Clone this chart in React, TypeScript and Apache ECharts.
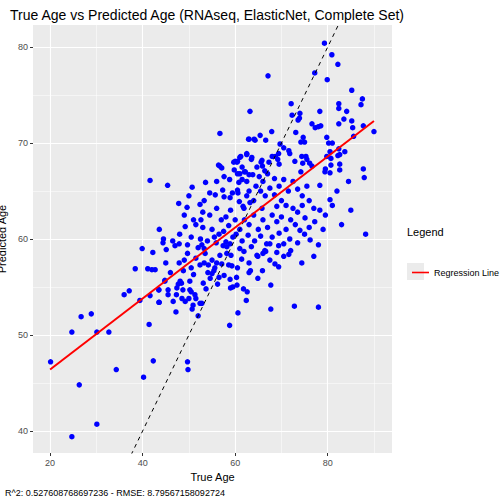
import React, { useEffect, useRef } from "react";
import * as echarts from "echarts";

// [true age, predicted age]
const outliers: number[][] = [
  [20.1, 47.2], [24.7, 50.3], [26.3, 44.8], [24.7, 39.4], [30.1, 40.7], [30.1, 50.3], [32.7, 50.3],
  [26.7, 51.9], [28.9, 52.2], [34.3, 46.4], [40.2, 45.6], [42.3, 47.3], [49.7, 47.2], [49.8, 46.4],
  [41.4, 51.1], [36, 54.2], [37.1, 54.6], [39.4, 53.6], [38.4, 56.9], [39.9, 59], [42.2, 58.6],
  [44.4, 59.6], [41.1, 56.9], [42, 56.8], [42.7, 56.8], [43.5, 54.7], [41.6, 54.1], [43.6, 53.4],
  [44.8, 55.6], [41.6, 66.1], [45.4, 65.6], [43.6, 61], [58.8, 51], [60.6, 52.3], [67.7, 52.7],
  [72.8, 53], [78, 52.9], [77, 58.2], [74.4, 57.5], [71.6, 58.4], [87.7, 67.3], [88.2, 60.5],
  [87.9, 66.4],
];

const lowerCluster: number[][] = [
  [59.5, 55], [59, 54.9], [60.4, 55.2], [58.9, 55.8], [60.3, 56], [57.6, 56.2], [56.2, 55.3],
  [54.6, 55.9], [54.1, 56.5], [53.7, 54.8], [53.1, 55.4], [52.4, 53.3], [52.8, 53.3], [52, 52],
  [50.7, 52.7], [50.9, 53.1], [50, 53.8], [49.2, 53.5], [48.5, 53.8], [51.3, 54.2], [51.5, 53.8],
  [50.2, 54.7], [50.5, 54.5], [50.2, 55.6], [48.7, 54.7], [47.4, 54.9], [47.7, 55.3], [48.1, 55.6],
  [48.4, 55.4], [47.3, 54.2], [46.6, 53.5], [45.5, 54.2], [45.5, 54.7], [47.2, 52.4], [43.5, 53.4],
  [44.8, 55.7], [43.5, 54.7], [48.8, 56.7], [47.9, 57.5], [51.5, 58], [52.4, 57.3], [53.3, 57.5],
  [54.2, 57.3], [55, 57.8], [56, 57.5], [52, 59.1], [52.8, 59.4], [53.3, 59], [49.7, 58.5],
  [49.7, 59.4], [56.7, 58.3], [58.2, 58.5], [59.1, 58.3], [57.4, 59.3], [58.2, 59.2], [58.9, 59.5],
  [55.6, 57], [55, 56.4], [55.4, 56.7], [58.6, 57.3], [59.3, 57.2], [57.1, 57.4], [47, 59.3],
  [45.1, 58.9], [47.9, 59.5], [62.4, 53.6], [62.6, 54.5], [64.9, 55.9], [65.9, 56.7], [69.4, 57.1],
  [68.6, 57.4], [67.5, 57.8], [69, 58.6], [69.4, 59.3], [66.4, 58.8], [66.6, 58.7], [64.7, 58.3],
  [64.9, 58.2], [63, 57.5], [63, 56.5], [63.3, 56.7], [61.9, 58.7], [61.4, 57.9], [61.8, 54.8],
  [67.7, 55.2], [45, 57.5], [46, 56.5], [49, 57.8], [50.5, 57], [51, 56.3], [53.5, 58.5], [56.5, 56],
  [60.5, 57],
];

const centralCluster: number[][] = [
  [56.7, 71], [62.9, 70.4], [64.1, 70.4], [53.6, 65.9], [56.4, 67.7], [56.7, 67.6], [57.1, 67.4],
  [57.6, 66.5], [58.8, 66.2], [60, 68.1], [60.5, 68.1], [61.2, 68.6], [62.5, 68.8], [63.5, 68.3],
  [61, 66.8], [61.5, 66.2], [62, 67], [60.8, 65.9], [65.8, 68.2], [65.9, 67.6], [69.4, 68.9],
  [47.8, 63.7], [49.6, 63.3], [49, 62.5], [52.4, 63.6], [53.3, 64], [55.7, 64.6], [57.3, 65.1],
  [57.6, 64.4], [58.9, 64.3], [59.4, 64.8], [60.5, 65.1], [60.6, 64.8], [60.9, 63.9], [61.7, 63.4],
  [61.9, 63.2], [63.2, 63.8], [65.5, 65], [66.5, 64.5], [67.5, 65.3], [68.5, 64.6], [69, 63.4],
  [65.8, 63.2], [52.6, 62], [53, 61.2], [55, 61], [56.5, 60.5], [55.9, 59.6], [58, 62.3],
  [58.6, 61.4], [59.5, 60.2], [44.5, 60], [46.5, 59.8], [48, 60.5], [49.2, 61.3], [50.5, 60.2],
  [51.5, 61.5], [52.5, 60], [54, 59.8], [54.5, 62.5], [56, 63.2], [57, 62], [59, 63], [60, 62],
  [61, 61], [62, 62], [63, 61.5], [64, 62.5], [65, 61], [66, 62], [67, 61.2], [68, 62.5], [69, 61.8],
  [70, 62.3], [71, 61], [72, 62], [73, 61.5], [60.2, 60.5], [61.5, 59.8], [62.8, 60.4], [64.2, 59.8],
  [65.5, 60.3], [66.8, 59.5], [68, 60.2], [69.5, 60.6], [70.5, 59.5], [71.8, 60], [63, 65], [64, 64],
  [62.5, 64.5], [66, 66], [67, 66.8], [68.5, 66.3], [69.5, 65.5], [70.5, 66.2], [71.5, 65], [72.5, 66],
  [73.5, 65.2], [74.5, 64.5], [75.5, 65.5], [70, 64], [71, 63.5], [72.5, 63.2], [73.5, 62.8],
  [74.5, 63.5], [76, 64], [77, 63.2], [55.5, 60.2], [57.5, 60.8], [53, 62.8], [51, 62], [50, 64.5],
  [54.5, 64.8], [56, 66], [59.8, 67.2], [62.5, 66], [63.8, 66.7], [64.5, 65.5], [65.2, 66.5],
  [58, 59.7], [61, 59], [63.5, 59.2], [66, 58.5], [67.5, 59.5], [70.5, 58.2], [72, 58.8], [73.5, 59.6],
  [75, 60.5], [76, 61.2], [79.5, 62.5], [81, 63.5], [79, 61], [82, 65], [84.5, 66], [85, 63], [83, 61.5],
  [78.3, 65.6], [79.4, 67], [80.5, 69.1], [82.2, 68.7], [82.6, 67.2], [83.7, 69.1], [80.5, 64.1],
  [78.3, 63], [77.2, 61.8], [75.1, 62.2], [74, 60.9], [76.2, 59.9], [78, 59.4], [50.7, 65.4],
];

const upperCluster: number[][] = [
  [79.3, 80.4], [80.9, 79.2], [82.2, 78.2], [79.9, 76.6], [77.2, 77.3], [67.1, 77], [85.2, 75.5],
  [87.5, 74.6], [87.2, 74], [82.4, 74.1], [82.4, 73.6], [84.1, 73.3], [78.3, 73.3], [72.1, 74.1],
  [72.3, 72.9], [74, 73.1], [73.6, 72.4], [73.9, 72.6], [63.2, 73.3], [83.5, 72.5], [85.2, 72.3],
  [85.4, 71.6], [87.7, 71.8], [90, 71.2], [82.4, 72], [76.6, 72], [77.3, 71.6], [78, 71.7],
  [78.5, 71.8], [67.9, 71.2], [65.4, 70.8], [63, 70.4], [64.3, 70.3], [66.6, 70.3], [73.1, 71.1],
  [74.7, 70.6], [74.2, 70.1], [75, 70.1], [79.8, 70.6], [80.2, 70], [81, 70], [69.7, 69.9],
  [70.5, 69.5], [71.6, 69.2], [71.8, 68.9], [82.4, 69.4], [82.6, 68.8], [85.6, 70.7], [62.5, 68.9],
  [61, 68.5], [63.6, 68.5], [59.7, 68], [60.4, 68], [65.6, 68], [68, 68.6], [68.7, 68.6], [69.2, 68.3],
  [67.3, 68], [69.5, 67.8], [72.9, 68.1], [74.4, 68.6], [75.3, 68.6], [75.5, 68.3], [74.6, 67.9],
  [76.1, 67.9], [76.6, 67.6], [79.8, 68.6], [80.7, 68.4], [80.7, 67.7], [82.6, 67.8], [61.5, 67.5],
  [62.2, 67], [63, 66.7], [64.7, 67.5], [66.4, 67.1], [74.2, 67], [79.5, 67.3], [80.5, 66.9],
  [60.5, 66.8],
];

const regressionLine: number[][] = [[20, 46.4], [90, 72.3]];
const identityLine: number[][] = [[30, 30], [100, 100]];

const xMajor = [20, 40, 60, 80];
const xMinor = [30, 50, 70, 90];
const yMajor = [40, 50, 60, 70, 80];
const yMinor = [45, 55, 65, 75];

const FONT = "Liberation Sans, Arial, sans-serif";

const App: React.FC = () => {
  const chartRef = useRef<HTMLDivElement | null>(null);

  useEffect(() => {
    if (!chartRef.current) return;
    const chart = echarts.init(chartRef.current, undefined, { renderer: "svg" });
    const points = [...outliers, ...lowerCluster, ...centralCluster, ...upperCluster];

    const gridLines = [
      ...xMajor.map((v) => ({ xAxis: v, lineStyle: { width: 1.1 } })),
      ...xMinor.map((v) => ({ xAxis: v, lineStyle: { width: 0.5 } })),
      ...yMajor.map((v) => ({ yAxis: v, lineStyle: { width: 1.1 } })),
      ...yMinor.map((v) => ({ yAxis: v, lineStyle: { width: 0.5 } })),
    ];

    chart.setOption({
      animation: false,
      textStyle: { fontFamily: FONT },
      title: {
        text: "True Age vs Predicted Age (RNAseq, ElasticNet, Complete Set)",
        left: 5,
        top: 3,
        textStyle: { fontSize: 14, fontWeight: "normal", color: "#000", fontFamily: FONT },
      },
      grid: {
        left: 33,
        right: 112,
        top: 25,
        bottom: 51,
        containLabel: false,
        outerBoundsMode: "none",
        backgroundColor: "#EBEBEB",
        show: true,
        borderWidth: 0,
      },
      xAxis: {
        type: "value",
        min: 16.3,
        max: 93.9,
        name: "True Age",
        nameLocation: "middle",
        nameGap: 16,
        nameTextStyle: { fontSize: 11, color: "#000" },
        axisLine: { show: false },
        axisTick: { show: true, length: 3, lineStyle: { color: "#333" }, customValues: xMajor },
        axisLabel: { fontSize: 9, color: "#4D4D4D", margin: 5, customValues: xMajor },
        splitLine: { show: false },
      },
      yAxis: {
        type: "value",
        min: 37.7,
        max: 82.3,
        name: "Predicted Age",
        nameLocation: "middle",
        nameGap: 20,
        nameTextStyle: { fontSize: 11, color: "#000" },
        axisLine: { show: false },
        axisTick: { show: true, length: 3, lineStyle: { color: "#333" }, customValues: yMajor },
        axisLabel: { fontSize: 9, color: "#4D4D4D", margin: 5, customValues: yMajor },
        splitLine: { show: false },
      },
      legend: {
        data: ["Regression Line"],
        left: 407,
        top: 263,
        itemWidth: 17,
        itemHeight: 17,
        icon: "path://M0,8H17V9.6H0Z",
        textStyle: { fontSize: 9, color: "#000", fontFamily: FONT },
        selectedMode: false,
      },
      graphic: [
        { type: "rect", left: 407, top: 263, shape: { width: 17, height: 17 }, style: { fill: "#EBEBEB" }, z: 0 },
        { type: "text", left: 407, top: 226, style: { text: "Legend", fontSize: 11, fill: "#000", fontFamily: FONT } },
        {
          type: "text",
          left: 5,
          top: 488,
          style: { text: "R^2: 0.527608768697236 - RMSE: 8.79567158092724", fontSize: 9, fill: "#000", fontFamily: FONT },
        },
      ],
      series: [
        {
          type: "scatter",
          name: "points",
          data: points,
          symbolSize: 5.5,
          itemStyle: { color: "#0000FF", opacity: 1 },
          markLine: {
            silent: true,
            symbol: "none",
            label: { show: false },
            lineStyle: { color: "#FFFFFF", type: "solid" },
            data: gridLines,
            z: 0,
          },
          z: 3,
        },
        {
          type: "line",
          name: "identity",
          data: identityLine,
          showSymbol: false,
          lineStyle: { color: "#000", width: 1, type: [4, 4] },
          z: 4,
        },
        {
          type: "line",
          name: "Regression Line",
          data: regressionLine,
          showSymbol: false,
          lineStyle: { color: "#FF0000", width: 2 },
          itemStyle: { color: "#FF0000" },
          z: 5,
        },
      ],
    });

    return () => {
      chart.dispose();
    };
  }, []);

  return (
    <div
      ref={chartRef}
      style={{ position: "fixed", left: 0, top: 0, width: "504px", height: "504px", background: "#fff" }}
    />
  );
};

export default App;
